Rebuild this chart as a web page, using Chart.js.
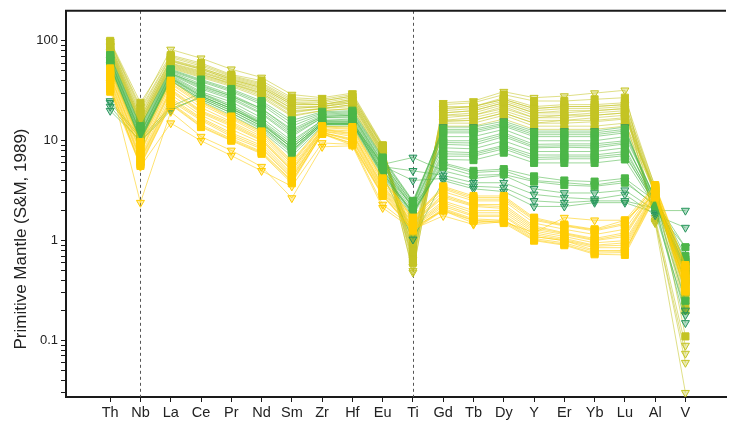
<!DOCTYPE html>
<html>
<head>
<meta charset="utf-8">
<script src="https://cdn.jsdelivr.net/npm/chart.js@4.4.1/dist/chart.umd.min.js"></script>
<style>
    html, body { margin: 0; padding: 0; background: #fff; }
    #wrap { width: 732px; height: 427px; }
</style>
</head>
<body>
<div id="wrap"><canvas id="spider" width="732" height="427"></canvas></div>
<script>
    // element order along the x axis
    const elements = ['Th', 'Nb', 'La', 'Ce', 'Pr', 'Nd', 'Sm', 'Zr', 'Hf', 'Eu', 'Ti', 'Gd', 'Tb', 'Dy', 'Y', 'Er', 'Yb', 'Lu', 'Al', 'V'];

    // y axis tick marks (log) and the ones that get a label
    const yTicks = [0.03, 0.04, 0.05, 0.06, 0.07, 0.08, 0.09, 0.1, 0.2, 0.3, 0.4, 0.5, 0.6, 0.7, 0.8, 0.9,
        1, 2, 3, 4, 5, 6, 7, 8, 9, 10, 20, 30, 40, 50, 60, 70, 80, 90, 100];
    const yLabels = { 0.1: '0.1', 1: '1', 10: '10', 100: '100' };

    // olive group - squares
    const oliveSquares = [
        [100, 24, 72, 60, 46, 40, 27, 26, 29, 9.0, 0.6, 23, 24, 29, 25, 25, 26, 27, 3.4, 0.11],
        [97, 21, 70, 58, 45, 38, 26, 25, 28, 8.8, 0.65, 21, 22, 26, 21, 22, 22, 23, 3.5, 0.3],
        [95, 20, 68, 56, 44, 37, 25, 25, 28, 8.6, 0.7, 22, 22, 27, 22, 23, 23, 24, 3.2, 0.25],
        [92, 18, 65, 54, 42, 35, 24, 24, 27, 8.3, 0.8, 20, 21, 25, 20, 21, 21, 22, 3.0, 0.4],
        [87, 17, 63, 52, 41, 34, 23, 23, 25, 8.1, 0.95, 19, 20, 24, 19, 19, 20, 21, 3.2, 0.22],
        [85, 16, 60, 50, 40, 33, 22, 22, 25, 7.8, 0.9, 18, 19, 23, 18, 18, 19, 20, 2.9, 0.3],
        [83, 16, 59, 49, 39, 31, 21, 22, 24, 7.7, 1.15, 18, 18, 21, 17, 18, 18, 19, 2.9, 0.38],
        [82, 15.5, 58, 48, 39, 32, 21, 22, 24, 7.6, 1.0, 17, 18, 22, 17, 17, 18, 19, 3.1, 0.5],
        [80, 15, 56, 46, 38, 30, 20, 21, 23, 7.4, 0.75, 16, 17, 20, 16, 16, 17, 18, 2.8, 0.2],
        [79, 15, 57, 47, 37, 30, 19.5, 21, 23, 7.3, 0.8, 16, 16, 19, 15, 16, 16, 17, 3.1, 0.28],
        [76, 14, 54, 44, 36, 28, 18, 20, 21, 7.0, 1.1, 15, 15, 18, 14, 14, 14, 15, 3.3, 0.35],
        [75, 14, 53, 43, 35, 27, 17.5, 20, 21, 6.9, 0.85, 14, 14, 16.5, 13, 13, 13, 14, 3.0, 0.45]
    ];
    // olive group - triangles
    const oliveTriangles = [
        [98, 22, 82, 67, 52, 43, 29, 27, 30, 9.2, 0.55, 24, 25, 31, 27, 28, 30, 32, 1.5, 0.03],
        [88, 17, 62, 52, 41, 34, 23, 23, 26, 8.0, 0.5, 19, 20, 24, 19, 20, 20, 21, 1.6, 0.06],
        [78, 14.5, 55, 45, 37, 29, 19, 21, 22, 7.2, 0.65, 15.5, 16, 19, 15, 15, 15.5, 16.5, 1.7, 0.089],
        [90, 19, 64, 53, 43, 36, 24, 23, 26, 8.8, 0.48, 21, 22, 26, 21, 22, 22, 23, 1.55, 0.074]
    ];

    // green group - squares
    const greenSquares = [
        [72, 14, 52, 41, 33, 25, 16, 19.5, 20, 6.8, 2.5, 13, 13, 15, 12, 12, 12, 13, 2.6, 0.6],
        [71, 13.5, 51, 40, 32, 24, 15, 19, 19.5, 6.6, 2.45, 12.5, 12.5, 14.5, 11.5, 11.5, 11.5, 12.5, 2.6, 0.62],
        [70, 13, 50, 39, 31, 23, 14, 18.5, 19, 6.4, 2.4, 12, 12, 14, 11, 11, 11, 12, 2.5, 0.5],
        [68, 12.5, 49, 37, 29, 21, 13, 18, 18.5, 6.1, 2.3, 11, 11, 13, 10, 10, 10, 11, 2.7, 0.7],
        [66, 12, 48, 35, 28, 20, 12, 17.5, 18, 5.8, 2.2, 10, 10, 12, 9.2, 9.3, 9.3, 10, 2.4, 0.45],
        [64, 11.8, 47, 34, 27, 19, 11.5, 17, 17.5, 5.6, 2.15, 9.6, 9.5, 11.5, 8.8, 8.9, 8.9, 9.6, 2.4, 0.48],
        [63, 11.5, 46, 33, 26, 18.5, 11, 17, 17, 5.5, 2.1, 9.2, 9, 11, 8.5, 8.6, 8.5, 9.3, 2.6, 0.55],
        [60, 11, 45, 31, 24.5, 17, 10, 16, 16.5, 5.2, 2.0, 8.5, 8.3, 10, 7.8, 7.8, 7.8, 8.5, 2.3, 0.4],
        [57, 10.5, 43, 29, 22, 15.5, 9, 15.5, 15.5, 5.0, 1.9, 7.8, 7.6, 9, 7.2, 7.2, 7.2, 7.8, 2.5, 0.65],
        [56, 10.2, 42, 28, 21, 14.8, 8.5, 15, 15, 4.8, 1.85, 7.4, 7.3, 8.7, 6.8, 6.9, 6.9, 7.4, 2.3, 0.54],
        [55, 10, 42, 27, 20, 14, 8, 15, 14.5, 4.7, 1.8, 7, 7, 8.3, 6.5, 6.6, 6.6, 7.1, 2.4, 0.5],
        [53, 9.8, 40, 25, 18, 12.5, 7, 14, 14, 4.4, 1.75, 6.5, 6.4, 7.6, 6.0, 6.0, 6.0, 6.5, 2.2, 0.58],
        [62, 11, 44, 30, 23, 16, 9.5, 16, 16, 5.0, 2.2, 5.5, 4.5, 4.6, 3.9, 3.6, 3.5, 3.8, 2.3, 0.25],
        [58, 10.5, 43, 28, 21, 14.5, 8.5, 15, 15, 4.8, 1.9, 6, 5, 5.2, 4.4, 4.0, 3.9, 4.2, 2.5, 0.86]
    ];
    // green group - triangles
    const greenTriangles = [
        [22, 9.8, 20, 28, 21, 15, 8.5, 15, 15, 5.8, 6.8, 5, 4.2, 4.5, 3.3, 3.0, 3.0, 3.2, 2.0, 2.0],
        [20, 10, 21, 27, 20, 14, 8, 14.5, 14.5, 5.5, 5.0, 4.5, 3.8, 3.8, 2.9, 2.7, 2.6, 2.9, 1.8, 1.35],
        [24, 10.5, 22, 30, 22, 15, 9, 15.5, 15.5, 5.6, 4.0, 4.2, 3.5, 3.4, 2.5, 2.4, 2.5, 2.5, 2.1, 0.86],
        [25, 11, 40, 26, 19, 13, 7.5, 14.5, 15, 4.6, 1.03, 4.0, 3.3, 3.1, 2.2, 2.2, 2.4, 2.4, 1.9, 0.2],
        [58, 10, 41, 26, 19, 13.5, 7.8, 14.5, 14.5, 4.5, 1.9, 5.8, 4.8, 5.0, 4.0, 3.8, 3.6, 4.0, 2.2, 0.18],
        [65, 12, 47, 36, 28, 21, 12.5, 17.5, 18, 6.0, 2.3, 13.7, 13.7, 15.7, 12.5, 12.5, 12.5, 13.7, 2.2, 0.15]
    ];

    // gold group - squares
    const goldSquares = [
        [53, 9.7, 40, 24.5, 17.5, 12.4, 6.3, 14, 13.7, 4.2, 1.7, 3.5, 2.8, 2.8, 1.7, 1.45, 1.3, 1.6, 3.6, 0.57],
        [51, 9.3, 38, 24, 17, 12, 6.1, 13.8, 13.3, 4.1, 1.68, 3.4, 2.7, 2.7, 1.65, 1.42, 1.28, 1.5, 3.5, 0.55],
        [50, 9, 37, 23, 16.5, 11.5, 5.9, 13.5, 13, 4.0, 1.65, 3.3, 2.6, 2.6, 1.6, 1.4, 1.25, 1.45, 3.5, 0.52],
        [48, 8.5, 35, 21.5, 15.5, 11, 5.6, 13, 12.5, 3.8, 1.6, 3.1, 2.5, 2.5, 1.5, 1.3, 1.15, 1.3, 3.4, 0.48],
        [46, 8, 33, 20, 15, 10.5, 5.3, 13, 12, 3.6, 1.55, 2.9, 2.3, 2.3, 1.4, 1.2, 1.05, 1.2, 3.3, 0.45],
        [45, 7.8, 32, 19.5, 14.5, 10.2, 5.1, 12.8, 11.8, 3.5, 1.52, 2.8, 2.25, 2.2, 1.35, 1.18, 1.02, 1.15, 3.25, 0.44],
        [44, 7.5, 31, 19, 14, 10, 5.0, 12.5, 11.5, 3.4, 1.5, 2.7, 2.2, 2.1, 1.3, 1.15, 1.0, 1.1, 3.2, 0.42],
        [42, 7, 29, 18, 13, 9.5, 4.7, 12.5, 11, 3.3, 1.45, 2.5, 2.0, 2.0, 1.25, 1.1, 0.95, 1.0, 3.1, 0.4],
        [40, 6.7, 27, 17, 12, 9, 4.5, 12, 10.5, 3.2, 1.4, 2.4, 1.9, 1.9, 1.2, 1.05, 0.9, 0.95, 3.0, 0.38],
        [39, 6.5, 26, 16.5, 11.5, 8.6, 4.3, 12.2, 10.2, 3.1, 1.38, 2.3, 1.8, 1.8, 1.15, 1.02, 0.88, 0.9, 2.95, 0.36],
        [37, 6.3, 25, 16, 11, 8.3, 4.2, 12, 10, 3.0, 1.35, 2.2, 1.75, 1.75, 1.1, 1.0, 0.85, 0.85, 2.9, 0.35],
        [34, 6, 24, 14.5, 10.5, 7.8, 4.0, 11.7, 9.5, 2.9, 1.3, 2.1, 1.65, 1.6, 1.05, 0.95, 0.78, 0.8, 2.8, 0.33],
        [33, 5.8, 23.5, 14, 10.2, 7.6, 3.9, 11.8, 9.3, 2.85, 1.28, 2.05, 1.6, 1.55, 1.02, 0.92, 0.75, 0.76, 2.75, 0.32],
        [31, 5.6, 23, 13.7, 10, 7.4, 3.75, 11.7, 9, 2.8, 1.26, 2.0, 1.58, 1.5, 1.0, 0.9, 0.73, 0.72, 2.7, 0.31]
    ];
    // gold group - triangles
    const goldTriangles = [
        [38, 2.4, 19.5, 11, 8, 5.5, 2.67, 8.7, 8.9, 2.13, 1.3, 1.77, 1.45, 1.55, 1.2, 1.7, 1.6, 1.6, 2.9, 0.4],
        [36, 5.5, 15, 10, 7.1, 5.0, 3.5, 9.5, 9.2, 2.3, 1.35, 2.0, 1.5, 1.6, 1.1, 1.0, 0.8, 0.78, 3.0, 0.35]
    ];

    const OLIVE = '196, 196, 36';
    const GREEN = '76, 182, 72';
    const DARK_GREEN = '38, 150, 92';
    const GOLD = '255, 204, 0';

    function makeSet(values, rgb, markRgb, triangle, order) {
        return {
            data: values.map((v, i) => ({ x: i, y: v })),
            borderColor: `rgba(${rgb}, 0.55)`,
            borderWidth: 1,
            pointStyle: triangle ? 'triangle' : 'rect',
            pointRotation: triangle ? 180 : 0,
            pointRadius: triangle ? 4.6 : 5,
            pointBackgroundColor: triangle ? `rgba(${markRgb}, 0.35)` : `rgb(${rgb})`,
            pointBorderColor: triangle ? `rgb(${markRgb})` : `rgb(${rgb})`,
            pointBorderWidth: 1,
            tension: 0,
            order
        };
    }

    const datasets = [
        ...oliveSquares.map(v => makeSet(v, OLIVE, OLIVE, false, 3)),
        ...oliveTriangles.map(v => makeSet(v, OLIVE, OLIVE, true, 3)),
        ...greenSquares.map(v => makeSet(v, GREEN, GREEN, false, 2)),
        ...greenTriangles.map(v => makeSet(v, GREEN, DARK_GREEN, true, 2)),
        ...goldSquares.map(v => makeSet(v, GOLD, GOLD, false, 1)),
        ...goldTriangles.map(v => makeSet(v, GOLD, GOLD, true, 1))
    ];

    // dashed guides at Nb and Ti, top frame line, rotated y title
    const decorations = {
        id: 'decorations',
        beforeDatasetsDraw(chart) {
            const { ctx, chartArea, scales } = chart;
            ctx.save();
            ctx.strokeStyle = '#555';
            ctx.lineWidth = 1;
            ctx.setLineDash([3, 3]);
            ['Nb', 'Ti'].forEach(el => {
                const x = Math.round(scales.x.getPixelForValue(elements.indexOf(el))) + 0.5;
                ctx.beginPath();
                ctx.moveTo(x, chartArea.top);
                ctx.lineTo(x, chartArea.bottom);
                ctx.stroke();
            });
            ctx.restore();
        },
        afterDraw(chart) {
            const { ctx, chartArea } = chart;
            ctx.save();
            ctx.strokeStyle = '#1a1a1a';
            ctx.lineWidth = 2;
            ctx.beginPath();
            ctx.moveTo(chartArea.left - 1, chartArea.top);
            ctx.lineTo(chartArea.right, chartArea.top);
            ctx.stroke();

            ctx.translate(21, 239);
            ctx.rotate(-Math.PI / 2);
            ctx.fillStyle = '#222';
            ctx.font = '17px "Liberation Sans", Arial, sans-serif';
            ctx.textAlign = 'center';
            ctx.textBaseline = 'middle';
            ctx.fillText('Primitive Mantle (S&M, 1989)', 0, 0);
            ctx.restore();
        }
    };

    new Chart(document.getElementById('spider').getContext('2d'), {
        type: 'line',
        data: { datasets },
        options: {
            responsive: false,
            animation: false,
            devicePixelRatio: 1,
            layout: { padding: { top: 5, right: 1, left: 0, bottom: 0 } },
            plugins: {
                legend: { display: false },
                tooltip: { enabled: false }
            },
            scales: {
                x: {
                    type: 'linear',
                    min: -1.459,
                    max: 20.34,
                    afterBuildTicks: s => { s.ticks = elements.map((_, i) => ({ value: i })); },
                    afterFit: s => { s.height = 30; },
                    ticks: {
                        autoSkip: false,
                        maxRotation: 0,
                        padding: 2,
                        color: '#222',
                        font: { family: '"Liberation Sans", Arial, sans-serif', size: 14.5 },
                        callback: v => elements[v]
                    },
                    grid: { drawOnChartArea: false, tickLength: 5, color: '#1a1a1a' },
                    border: { color: '#1a1a1a', width: 2 }
                },
                y: {
                    type: 'logarithmic',
                    min: 0.0272,
                    max: 200,
                    afterBuildTicks: s => { s.ticks = yTicks.map(v => ({ value: v })); },
                    afterFit: s => { s.width = 66; },
                    ticks: {
                        autoSkip: false,
                        padding: 3,
                        color: '#222',
                        font: { family: '"Liberation Sans", Arial, sans-serif', size: 13 },
                        callback: v => yLabels[v] || ''
                    },
                    grid: { drawOnChartArea: false, tickLength: 5, color: '#1a1a1a' },
                    border: { color: '#1a1a1a', width: 2 }
                }
            }
        },
        plugins: [decorations]
    });
</script>
</body>
</html>
